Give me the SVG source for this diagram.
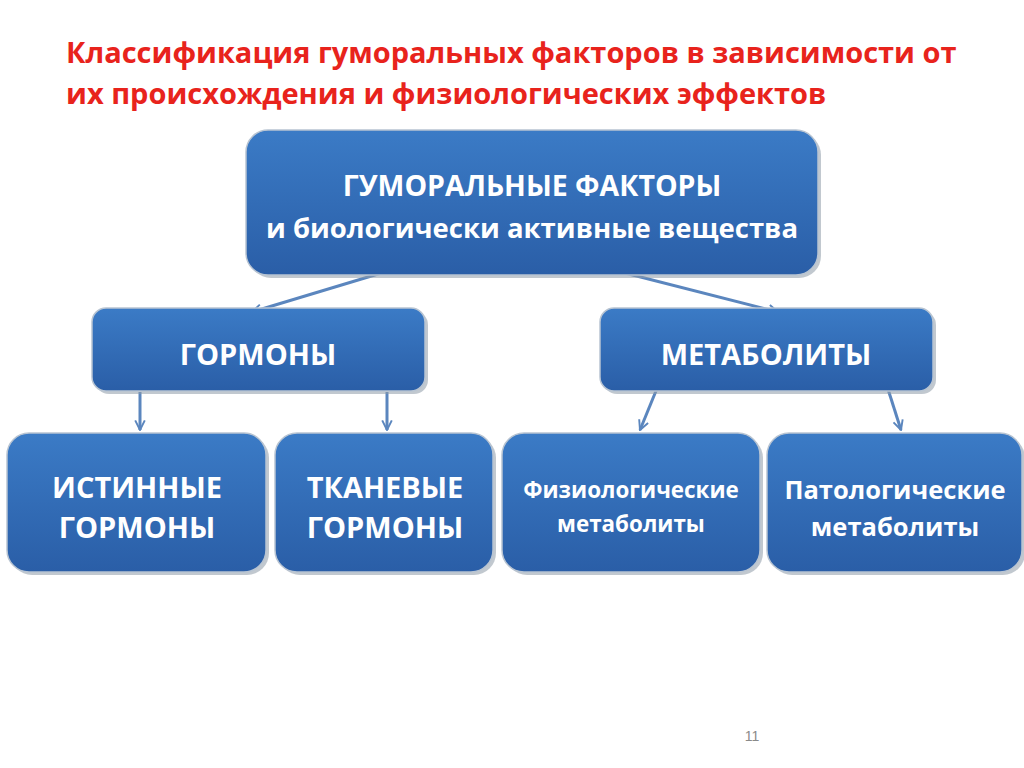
<svg xmlns="http://www.w3.org/2000/svg" width="1024" height="768" viewBox="0 0 1024 768">
<defs>
<linearGradient id="bg" x1="0" y1="0" x2="0" y2="1">
<stop offset="0" stop-color="#3b7bc6"/>
<stop offset="1" stop-color="#2a5ea7"/>
</linearGradient>
<marker id="ah" viewBox="0 0 10 10" refX="9" refY="5" markerWidth="4" markerHeight="4" orient="auto" markerUnits="strokeWidth">
<path d="M1,1 L9,5 L1,9" fill="none" stroke="#5b86be" stroke-width="1.6"/>
</marker>
</defs>
<style>
.box{fill:url(#bg);stroke:#b8c4d2;stroke-width:1.5}
.sh{fill:#8e9aa8;opacity:0.55}
.t{font-family:"Open Sans","Noto Sans","DejaVu Sans",sans-serif;font-weight:bold;fill:#ffffff;text-anchor:middle}
.title{font-family:"Open Sans","Noto Sans","DejaVu Sans",sans-serif;font-weight:bold;fill:#e8231c;font-size:29px}
.c{fill:none;stroke:#5b86be;stroke-width:3;marker-end:url(#ah)}
</style>
<rect width="1024" height="768" fill="#ffffff"/>
<g id="title">
<text class="title" x="66" y="63">Классификация гуморальных факторов в зависимости от</text>
<text class="title" x="66" y="104">их происхождения и физиологических эффектов</text>
</g>
<g id="connectors">
<line class="c" x1="388" y1="271" x2="252" y2="312"/>
<line class="c" x1="617" y1="271" x2="778" y2="312"/>
<line class="c" x1="140" y1="392" x2="140" y2="430"/>
<line class="c" x1="387" y1="392" x2="387" y2="430"/>
<line class="c" x1="658" y1="386" x2="640" y2="430"/>
<line class="c" x1="887" y1="386" x2="901" y2="430"/>
</g>
<g id="n-top">
<rect class="sh" x="249" y="133" width="572" height="145" rx="22"/>
<rect class="box" x="246" y="130" width="572" height="145" rx="22"/>
<text class="t" x="532" y="196" font-size="28.5">ГУМОРАЛЬНЫЕ ФАКТОРЫ</text>
<text class="t" x="532" y="238" font-size="27.5">и биологически активные вещества</text>
</g>
<g id="n-hormones">
<rect class="sh" x="95" y="311" width="333" height="83" rx="14"/>
<rect class="box" x="92" y="308" width="333" height="83" rx="14"/>
<text class="t" x="258" y="365" font-size="29">ГОРМОНЫ</text>
</g>
<g id="n-metabolites">
<rect class="sh" x="603" y="311" width="333" height="83" rx="14"/>
<rect class="box" x="600" y="308" width="333" height="83" rx="14"/>
<text class="t" x="766" y="365" font-size="29">МЕТАБОЛИТЫ</text>
</g>
<g id="n-true">
<rect class="sh" x="10" y="436" width="259" height="139" rx="22"/>
<rect class="box" x="7" y="433" width="259" height="139" rx="22"/>
<text class="t" x="137" y="498" font-size="29">ИСТИННЫЕ</text>
<text class="t" x="137" y="538" font-size="29">ГОРМОНЫ</text>
</g>
<g id="n-tissue">
<rect class="sh" x="278" y="436" width="218" height="139" rx="22"/>
<rect class="box" x="275" y="433" width="218" height="139" rx="22"/>
<text class="t" x="385" y="498" font-size="29">ТКАНЕВЫЕ</text>
<text class="t" x="385" y="538" font-size="29">ГОРМОНЫ</text>
</g>
<g id="n-phys">
<rect class="sh" x="505" y="436" width="258" height="139" rx="22"/>
<rect class="box" x="502" y="433" width="258" height="139" rx="22"/>
<text class="t" x="631" y="498" font-size="22.4">Физиологические</text>
<text class="t" x="631" y="532" font-size="22.4">метаболиты</text>
</g>
<g id="n-path">
<rect class="sh" x="770" y="436" width="255" height="139" rx="22"/>
<rect class="box" x="767" y="433" width="255" height="139" rx="22"/>
<text class="t" x="895" y="499" font-size="25.5">Патологические</text>
<text class="t" x="895" y="536" font-size="25.5">метаболиты</text>
</g>
<text x="752" y="741" font-family="Liberation Sans,Arial,sans-serif" font-size="14" fill="#8a8a8a" text-anchor="middle">11</text>
</svg>
